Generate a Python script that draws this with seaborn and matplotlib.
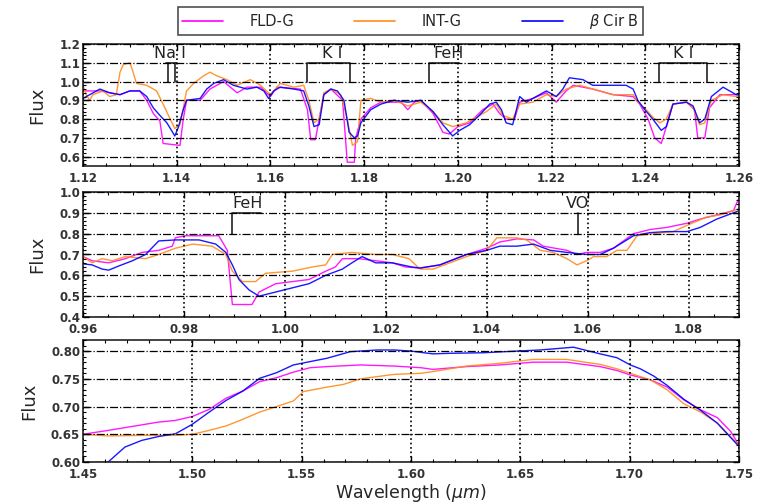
import matplotlib
matplotlib.use("Agg")
import matplotlib.pyplot as plt
import seaborn as sns
import pandas as pd
from matplotlib.ticker import MultipleLocator, FormatStrFormatter
from matplotlib.lines import Line2D

# ---------------- data ----------------
series_names = ["FLD-G", "INT-G", r"$\beta$ Cir B"]
series_colors = ["#ff00ff", "#ff8c1a", "#0000ff"]

# Panel 1 (1.12 - 1.26 um)
p1_fld_wl = [1.1200, 1.1236, 1.1257, 1.1279, 1.1300, 1.1321, 1.1336, 1.1350, 1.1364, 1.1371, 1.1407, 1.1414,
             1.1421, 1.1450, 1.1471, 1.1500, 1.1529, 1.1550, 1.1579, 1.1600, 1.1614, 1.1664, 1.1679, 1.1686,
             1.1696, 1.1704, 1.1714, 1.1729, 1.1754, 1.1764, 1.1779, 1.1782, 1.1793, 1.1814, 1.1836, 1.1879,
             1.1893, 1.1907, 1.1921, 1.1947, 1.1968, 1.1982, 1.2000, 1.2025, 1.2053, 1.2075, 1.2089, 1.2103,
             1.2121, 1.2132, 1.2160, 1.2189, 1.2210, 1.2231, 1.2246, 1.2288, 1.2331, 1.2374, 1.2388, 1.2406,
             1.2420, 1.2434, 1.2445, 1.2459, 1.2488, 1.2505, 1.2512, 1.2527, 1.2537, 1.2559, 1.2594, 1.2600]
p1_fld_fx = [0.95, 0.95, 0.94, 0.93, 0.95, 0.95, 0.90, 0.83, 0.79, 0.67, 0.66, 0.80,
             0.90, 0.90, 0.96, 1.00, 0.94, 0.97, 0.97, 0.92, 0.97, 0.96, 0.85, 0.69,
             0.69, 0.80, 0.93, 0.96, 0.90, 0.57, 0.57, 0.70, 0.80, 0.86, 0.89, 0.89,
             0.85, 0.89, 0.90, 0.83, 0.73, 0.72, 0.76, 0.78, 0.85, 0.88, 0.83, 0.80,
             0.80, 0.89, 0.91, 0.94, 0.89, 0.95, 0.98, 0.96, 0.93, 0.92, 0.88, 0.80,
             0.70, 0.67, 0.76, 0.88, 0.89, 0.85, 0.70, 0.70, 0.86, 0.93, 0.93, 0.93]

p1_int_wl = [1.1200, 1.1207, 1.1214, 1.1221, 1.1243, 1.1257, 1.1271, 1.1279, 1.1286, 1.1300, 1.1307, 1.1314,
             1.1336, 1.1357, 1.1371, 1.1386, 1.1396, 1.1407, 1.1421, 1.1436, 1.1457, 1.1471, 1.1486, 1.1507,
             1.1529, 1.1557, 1.1579, 1.1600, 1.1621, 1.1650, 1.1671, 1.1682, 1.1693, 1.1704, 1.1714, 1.1729,
             1.1750, 1.1764, 1.1775, 1.1786, 1.1793, 1.1814, 1.1836, 1.1864, 1.1893, 1.1921, 1.1947, 1.1968,
             1.1989, 1.2018, 1.2032, 1.2061, 1.2082, 1.2096, 1.2117, 1.2132, 1.2160, 1.2189, 1.2210, 1.2231,
             1.2260, 1.2288, 1.2331, 1.2374, 1.2388, 1.2402, 1.2416, 1.2431, 1.2445, 1.2459, 1.2488, 1.2502,
             1.2516, 1.2527, 1.2541, 1.2566, 1.2594, 1.2600]
p1_int_fx = [0.98, 0.93, 0.90, 0.93, 0.95, 0.92, 0.93, 1.05, 1.09, 1.10, 1.05, 0.99,
             0.98, 0.95, 0.88, 0.80, 0.75, 0.77, 0.95, 0.99, 1.03, 1.05, 1.03, 1.01,
             0.98, 1.01, 0.98, 0.93, 0.99, 0.97, 0.98, 0.90, 0.78, 0.80, 0.94, 0.96,
             0.93, 0.80, 0.66, 0.68, 0.90, 0.91, 0.89, 0.90, 0.87, 0.89, 0.84, 0.78,
             0.76, 0.78, 0.80, 0.84, 0.88, 0.82, 0.80, 0.88, 0.89, 0.93, 0.92, 0.96,
             0.98, 0.96, 0.93, 0.93, 0.88, 0.85, 0.81, 0.78, 0.80, 0.88, 0.89, 0.86,
             0.77, 0.78, 0.90, 0.93, 0.92, 0.92]

p1_bcb_wl = [1.1200, 1.1236, 1.1257, 1.1279, 1.1300, 1.1321, 1.1336, 1.1350, 1.1364, 1.1379, 1.1396, 1.1404,
             1.1414, 1.1421, 1.1450, 1.1464, 1.1479, 1.1500, 1.1521, 1.1550, 1.1571, 1.1586, 1.1596, 1.1607,
             1.1621, 1.1650, 1.1671, 1.1682, 1.1693, 1.1704, 1.1714, 1.1729, 1.1743, 1.1757, 1.1768, 1.1779,
             1.1786, 1.1793, 1.1814, 1.1836, 1.1864, 1.1893, 1.1921, 1.1947, 1.1968, 1.1989, 1.2004, 1.2025,
             1.2046, 1.2068, 1.2082, 1.2093, 1.2103, 1.2117, 1.2132, 1.2146, 1.2160, 1.2189, 1.2210, 1.2224,
             1.2238, 1.2267, 1.2288, 1.2317, 1.2359, 1.2374, 1.2384, 1.2399, 1.2416, 1.2434, 1.2445, 1.2459,
             1.2488, 1.2502, 1.2516, 1.2527, 1.2541, 1.2566, 1.2594, 1.2600]
p1_bcb_fx = [0.91, 0.96, 0.94, 0.93, 0.95, 0.95, 0.92, 0.86, 0.82, 0.78, 0.71, 0.76,
             0.85, 0.90, 0.91, 0.96, 0.99, 1.01, 0.98, 0.96, 0.97, 0.95, 0.91, 0.95,
             0.97, 0.96, 0.95, 0.87, 0.76, 0.77, 0.93, 0.96, 0.95, 0.90, 0.73, 0.70,
             0.71, 0.78, 0.85, 0.88, 0.90, 0.89, 0.90, 0.84, 0.77, 0.71, 0.74, 0.77,
             0.82, 0.88, 0.89, 0.85, 0.78, 0.77, 0.92, 0.89, 0.91, 0.95, 0.92, 0.96,
             1.02, 1.01, 0.98, 0.98, 0.98, 0.96, 0.90, 0.85, 0.80, 0.74, 0.76, 0.88,
             0.89, 0.87, 0.78, 0.80, 0.92, 0.97, 0.93, 0.93]

# Panel 2 (0.96 - 1.09 um)
p2_fld_wl = [0.9600, 0.9618, 0.9651, 0.9684, 0.9717, 0.9750, 0.9777, 0.9783, 0.9803, 0.9869, 0.9886, 0.9896,
             0.9935, 0.9949, 0.9982, 1.0048, 1.0081, 1.0100, 1.0114, 1.0147, 1.0180, 1.0213, 1.0239, 1.0268,
             1.0307, 1.0360, 1.0400, 1.0426, 1.0460, 1.0493, 1.0512, 1.0559, 1.0579, 1.0598, 1.0625, 1.0651,
             1.0691, 1.0724, 1.0757, 1.0797, 1.0823, 1.0856, 1.0889, 1.0896, 1.0900]
p2_fld_fx = [0.69, 0.67, 0.66, 0.68, 0.71, 0.72, 0.74, 0.78, 0.79, 0.79, 0.72, 0.46,
             0.46, 0.52, 0.56, 0.58, 0.62, 0.64, 0.68, 0.68, 0.67, 0.66, 0.64, 0.635,
             0.65, 0.70, 0.73, 0.76, 0.775, 0.77, 0.74, 0.72, 0.70, 0.71, 0.71, 0.73,
             0.80, 0.82, 0.83, 0.85, 0.87, 0.89, 0.91, 0.95, 0.97]

p2_int_wl = [0.9600, 0.9618, 0.9638, 0.9658, 0.9684, 0.9724, 0.9750, 0.9783, 0.9817, 0.9856, 0.9883, 0.9896,
             0.9916, 0.9942, 0.9962, 1.0015, 1.0054, 1.0081, 1.0094, 1.0133, 1.0180, 1.0213, 1.0246, 1.0268,
             1.0294, 1.0327, 1.0360, 1.0400, 1.0420, 1.0460, 1.0479, 1.0506, 1.0532, 1.0559, 1.0579, 1.0598,
             1.0612, 1.0638, 1.0658, 1.0678, 1.0698, 1.0731, 1.0770, 1.0797, 1.0836, 1.0863, 1.0900]
p2_int_fx = [0.69, 0.66, 0.68, 0.67, 0.69, 0.68, 0.70, 0.73, 0.75, 0.74, 0.70, 0.62,
             0.57, 0.57, 0.61, 0.62, 0.64, 0.65, 0.70, 0.71, 0.70, 0.70, 0.68, 0.63,
             0.63, 0.66, 0.69, 0.72, 0.78, 0.78, 0.77, 0.72, 0.71, 0.68, 0.65, 0.67,
             0.69, 0.69, 0.72, 0.72, 0.79, 0.80, 0.81, 0.84, 0.88, 0.89, 0.92]

p2_bcb_wl = [0.9600, 0.9618, 0.9638, 0.9651, 0.9671, 0.9698, 0.9724, 0.9750, 0.9783, 0.9830, 0.9863, 0.9883,
             0.9896, 0.9909, 0.9929, 0.9949, 0.9982, 1.0015, 1.0048, 1.0081, 1.0114, 1.0133, 1.0153, 1.0180,
             1.0213, 1.0252, 1.0268, 1.0307, 1.0360, 1.0400, 1.0426, 1.0460, 1.0493, 1.0526, 1.0559, 1.0598,
             1.0625, 1.0651, 1.0691, 1.0724, 1.0757, 1.0797, 1.0823, 1.0856, 1.0889, 1.0900]
p2_bcb_fx = [0.655, 0.65, 0.63, 0.625, 0.645, 0.67, 0.70, 0.765, 0.77, 0.77, 0.75, 0.71,
             0.65, 0.58, 0.53, 0.50, 0.52, 0.54, 0.56, 0.60, 0.63, 0.66, 0.69, 0.66,
             0.66, 0.64, 0.635, 0.65, 0.70, 0.72, 0.74, 0.74, 0.75, 0.72, 0.71, 0.70,
             0.70, 0.73, 0.79, 0.805, 0.81, 0.81, 0.83, 0.87, 0.90, 0.91]

# Panel 3 (1.45 - 1.75 um)
p3_fld_wl = [1.4500, 1.4615, 1.4692, 1.4769, 1.4846, 1.4923, 1.5000, 1.5077, 1.5154, 1.5231, 1.5308, 1.5385,
             1.5462, 1.5538, 1.5615, 1.5769, 1.5923, 1.6046, 1.6100, 1.6253, 1.6406, 1.6559, 1.6712, 1.6865,
             1.6942, 1.7003, 1.7095, 1.7172, 1.7248, 1.7325, 1.7401, 1.7462, 1.7500]
p3_fld_fx = [0.650, 0.657, 0.662, 0.667, 0.672, 0.675, 0.682, 0.695, 0.715, 0.728, 0.745, 0.752,
             0.762, 0.770, 0.772, 0.775, 0.773, 0.770, 0.767, 0.772, 0.775, 0.780, 0.780, 0.772,
             0.765, 0.757, 0.748, 0.735, 0.712, 0.694, 0.680, 0.655, 0.630]

p3_int_wl = [1.4500, 1.4615, 1.4769, 1.4923, 1.5000, 1.5077, 1.5154, 1.5231, 1.5308, 1.5385, 1.5462, 1.5508,
             1.5615, 1.5692, 1.5769, 1.5923, 1.6046, 1.6100, 1.6253, 1.6406, 1.6559, 1.6712, 1.6865, 1.6942,
             1.7003, 1.7095, 1.7172, 1.7248, 1.7325, 1.7401, 1.7500]
p3_int_fx = [0.650, 0.647, 0.648, 0.648, 0.650, 0.657, 0.665, 0.677, 0.690, 0.700, 0.710, 0.727,
             0.735, 0.740, 0.750, 0.758, 0.760, 0.763, 0.773, 0.778, 0.785, 0.785, 0.776, 0.768,
             0.760, 0.748, 0.730, 0.705, 0.690, 0.670, 0.630]

p3_bcb_wl = [1.4500, 1.4615, 1.4692, 1.4769, 1.4846, 1.4923, 1.5000, 1.5077, 1.5154, 1.5231, 1.5308, 1.5385,
             1.5462, 1.5538, 1.5615, 1.5723, 1.5846, 1.5923, 1.6000, 1.6100, 1.6176, 1.6329, 1.6482, 1.6590,
             1.6743, 1.6865, 1.6942, 1.7003, 1.7049, 1.7110, 1.7172, 1.7248, 1.7325, 1.7401, 1.7500]
p3_bcb_fx = [0.575, 0.600, 0.627, 0.639, 0.646, 0.651, 0.668, 0.690, 0.711, 0.728, 0.751, 0.761,
             0.775, 0.781, 0.787, 0.799, 0.802, 0.802, 0.800, 0.795, 0.796, 0.797, 0.800, 0.802,
             0.807, 0.795, 0.788, 0.775, 0.768, 0.755, 0.738, 0.713, 0.693, 0.670, 0.628]

# Feature identifications: (label, left wl, right wl, label x)
p1_features = [("Na I", 1.1381, 1.1396, 1.1386), ("K I", 1.1677, 1.1770, 1.1731),
               ("FeH", 1.1938, 1.2002, 1.1980), ("K I", 1.2429, 1.2532, 1.2480)]
p2_features = [("FeH", 0.9895, 0.9953, 0.9927), ("VO", 1.0580, 1.0580, 1.0580)]

panel_xlim = [(1.12, 1.26), (0.96, 1.09), (1.45, 1.75)]
panel_ylim = [(0.55, 1.2), (0.4, 1.0), (0.60, 0.82)]
panel_xmajor = [0.02, 0.02, 0.05]
panel_xminor = [0.005, 0.005, 0.01]
panel_ymajor = [0.1, 0.1, 0.05]
panel_yminor = [0.02, 0.02, 0.01]
panel_yfmt = ["%.1f", "%.1f", "%.2f"]

# ---------------- plotting ----------------
sns.set_style("ticks")
plt.rcParams["font.family"] = ["DejaVu Sans"]

fig = plt.figure(figsize=(7.58, 5.03), dpi=100)
axes_rects = [
    [83 / 758, 1 - 166 / 503, 656 / 758, 122 / 503],
    [83 / 758, 1 - 317 / 503, 656 / 758, 125 / 503],
    [83 / 758, 1 - 462 / 503, 656 / 758, 122 / 503],
]
axes = [fig.add_axes(r) for r in axes_rects]

panels = [
    [(p1_fld_wl, p1_fld_fx), (p1_int_wl, p1_int_fx), (p1_bcb_wl, p1_bcb_fx)],
    [(p2_fld_wl, p2_fld_fx), (p2_int_wl, p2_int_fx), (p2_bcb_wl, p2_bcb_fx)],
    [(p3_fld_wl, p3_fld_fx), (p3_int_wl, p3_int_fx), (p3_bcb_wl, p3_bcb_fx)],
]

for i, ax in enumerate(axes):
    frames = []
    for name, (wl, fx) in zip(series_names, panels[i]):
        frames.append(pd.DataFrame({"wl": wl, "flux": fx, "obj": name}))
    df = pd.concat(frames, ignore_index=True)
    sns.lineplot(data=df, x="wl", y="flux", hue="obj", hue_order=series_names,
                 palette=series_colors, ax=ax, legend=False, linewidth=1.0,
                 estimator=None, sort=False, alpha=0.9)
    ax.set_xlim(*panel_xlim[i])
    ax.set_ylim(*panel_ylim[i])
    ax.xaxis.set_major_locator(MultipleLocator(panel_xmajor[i]))
    ax.xaxis.set_minor_locator(MultipleLocator(panel_xminor[i]))
    ax.yaxis.set_major_locator(MultipleLocator(panel_ymajor[i]))
    ax.yaxis.set_minor_locator(MultipleLocator(panel_yminor[i]))
    ax.yaxis.set_major_formatter(FormatStrFormatter(panel_yfmt[i]))
    ax.xaxis.set_major_formatter(FormatStrFormatter("%.2f"))
    ax.tick_params(which="both", direction="in", top=True, right=True, labelsize=8.5,
                   colors="black")
    ax.tick_params(axis="y", pad=2)
    ax.tick_params(axis="x", pad=4.5)
    ax.tick_params(which="major", length=4, width=1)
    ax.tick_params(which="minor", length=2.5, width=0.8)
    ax.yaxis.grid(True, which="major", linestyle="-.", color="black", linewidth=0.9)
    ax.xaxis.grid(True, which="major", linestyle=":", color="black", linewidth=1.2)
    ax.set_axisbelow(False)
    for s in ax.spines.values():
        s.set_linewidth(1.2)
        s.set_color("#222222")
    ax.set_xlabel("")
    ax.set_ylabel("Flux", fontsize=13, labelpad=9)
    for t in ax.get_xticklabels() + ax.get_yticklabels():
        t.set_fontweight("bold")
        t.set_color("#333333")
    for t in ax.get_yticklabels():
        t.set_va("center_baseline")

# feature brackets
ax1 = axes[0]
for label, lo, hi, xt in p1_features:
    if label == "Na I":
        ax1.plot([lo, lo], [1.0, 1.1], color="#222222", lw=1.2)
        ax1.plot([hi, hi], [1.0, 1.1], color="#222222", lw=1.2)
        ax1.plot([lo - 0.0004, hi + 0.0004], [1.1, 1.1], color="#222222", lw=1.2)
    elif label == "FeH":
        ax1.plot([lo, lo, hi], [1.0, 1.1, 1.1], color="#222222", lw=1.2)
    else:
        ax1.plot([lo, lo, hi, hi], [1.0, 1.1, 1.1, 1.0], color="#222222", lw=1.2)
    ax1.text(xt, 1.152, label, ha="center", va="center", fontsize=11.5, color="#222222",
             zorder=5)

ax2 = axes[1]
for label, lo, hi, xt in p2_features:
    if lo == hi:
        ax2.plot([lo, lo], [0.8, 0.9], color="#222222", lw=1.2)
    else:
        ax2.plot([lo, lo, hi], [0.8, 0.9, 0.9], color="#222222", lw=1.2)
    ax2.text(xt, 0.945, label, ha="center", va="center", fontsize=11.5, color="#222222",
             zorder=5)

axes[2].set_xlabel(r"Wavelength ($\mu m$)", fontsize=12.5, labelpad=0.5)

handles = [Line2D([0], [0], color=c, lw=1.2) for c in series_colors]
leg = fig.legend(handles, series_names, loc="lower left", ncol=3, mode="expand",
                 bbox_to_anchor=(178 / 758, 1 - 35 / 503, 465 / 758, 25 / 503),
                 fancybox=False, frameon=True, fontsize=10.5, handlelength=2.8,
                 borderaxespad=0, borderpad=0.3, handletextpad=1.8)
leg.get_frame().set_edgecolor("#222222")
leg.get_frame().set_linewidth(1.2)

fig.savefig("out.png", dpi=100)
